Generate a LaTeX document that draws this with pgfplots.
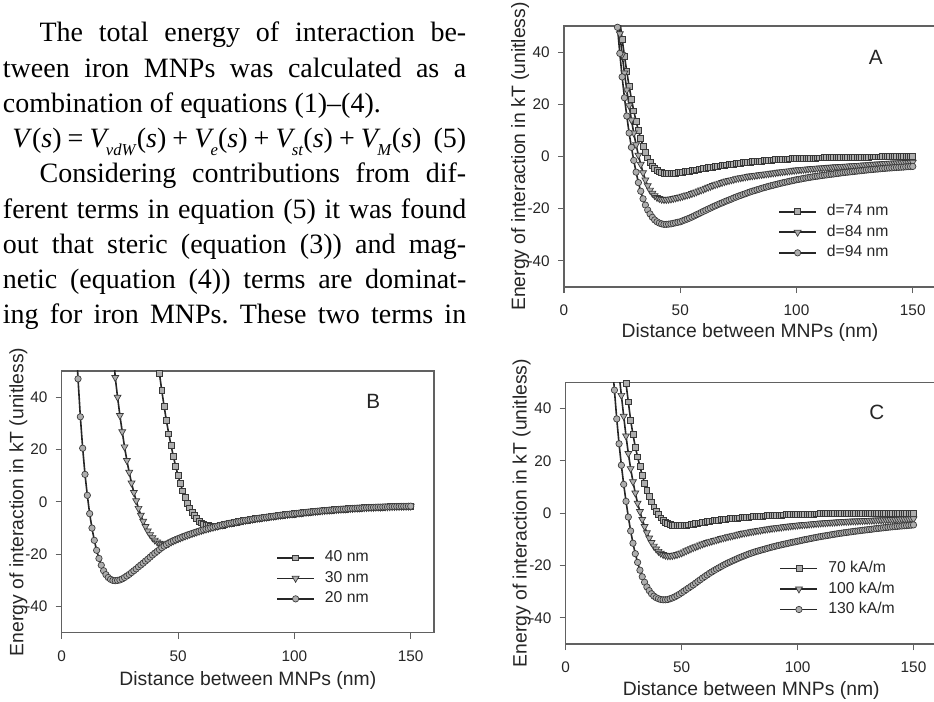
\documentclass[border=0pt]{standalone}
\usepackage{fontspec}
\setmainfont{Liberation Serif}
\newfontfamily\chartfont{Liberation Sans}
\usepackage{pgfplots}
\usepackage{pgfplotstable}
\pgfplotsset{compat=1.18}
\frenchspacing
\newcommand{\sub}[1]{\kern-0.12em\raisebox{-0.28em}{\fontsize{12.5}{13}\selectfont\textit{#1}}}
\definecolor{mkfill}{gray}{0.68}
\definecolor{mkdraw}{gray}{0.22}
\definecolor{ln}{gray}{0.15}
\definecolor{ax}{gray}{0.38}
\definecolor{txt}{gray}{0.15}
\pgfplotsset{
  mychart/.style={
    scale only axis,
    xmin=0, xmax=160, ymin=-50, ymax=50,
    xtick={0,50,100,150}, ytick={-40,-20,0,20,40},
    tick pos=left, tick align=outside,
    major tick length=4.5pt,
    axis line style={ax, line width=0.8pt},
    every tick/.style={ax, line width=0.8pt},
    /pgf/number format/assume math mode=true,
    ticklabel style={font=\chartfont\fontsize{11.5}{13}\selectfont, text=txt},
    xticklabel style={anchor=center, yshift=-12.75pt, inner sep=0pt},
    yticklabel style={anchor=east, xshift=-6pt, inner sep=0pt},
    label style={font=\chartfont\fontsize{14.5}{16}\selectfont, text=txt},
    xlabel={Distance between MNPs (nm)},
    ylabel={Energy of interaction in kT (unitless)},
    legend cell align=left,
    legend image code/.code={\draw[mark repeat=2,mark phase=2] plot coordinates {(0pt,0pt) (13.9pt,0pt) (27.8pt,0pt)};},
  },
  sq/.style={ln, line width=1.2pt, mark=square*, mark size=2.2pt, mark options={fill=mkfill, draw=mkdraw, line width=0.5pt}},
  tri/.style={ln, line width=1.2pt, mark=triangle*, mark size=3pt, mark options={rotate=180, fill=mkfill, draw=mkdraw, line width=0.5pt}},
  cir/.style={ln, line width=1.2pt, mark=*, mark size=2.4pt, mark options={fill=mkfill, draw=mkdraw, line width=0.5pt}},
  leg/.style={legend style={at={(axis description cs:#1)}, anchor=west, draw=none, fill=none, inner sep=0pt, row sep=4.4pt, column sep=7.5pt, font=\chartfont\fontsize{11.8}{13}\selectfont, text=txt, nodes={inner sep=0pt, text height=8.6pt, text depth=2.4pt}}},
}
\pgfplotstableread[row sep=\\]{
x y\\ 6 64\\ 7 47\\ 8 32.5\\ 9 20.5\\ 10 10.5\\ 11 2.5\\ 12 -4.5\\ 13 -10\\ 14 -14.7\\ 15 -18.5\\ 16 -21.6\\ 17 -24.2\\ 18 -26.3\\ 19 -27.8\\ 20 -28.9\\ 21 -29.6\\ 22 -30\\ 23 -30.1\\ 24 -30\\ 25 -29.8\\ 26 -29.4\\ 27 -28.9\\ 28 -28.3\\ 29 -27.7\\ 30 -27\\ 31 -26.3\\ 32 -25.6\\ 33 -24.8\\ 34 -24.1\\ 35 -23.4\\ 36 -22.6\\ 37 -21.9\\ 38 -21.1\\ 39 -20.3\\ 40 -19.6\\ 41 -18.9\\ 42 -18.2\\ 43 -17.5\\ 44 -16.9\\ 45 -16.3\\ 46 -15.8\\ 47 -15.3\\ 48 -14.9\\ 49 -14.5\\ 50 -14.1\\ 51 -13.75\\ 52 -13.4\\ 53 -13.05\\ 54 -12.7\\ 55 -12.4\\ 56 -12.1\\ 57 -11.8\\ 58 -11.5\\ 59 -11.2\\ 60 -10.9\\ 61 -10.65\\ 62 -10.4\\ 63 -10.15\\ 64 -9.9\\ 65 -9.7\\ 66 -9.45\\ 67 -9.25\\ 68 -9\\ 69 -8.8\\ 70 -8.6\\ 71 -8.4\\ 72 -8.2\\ 73 -8.05\\ 74 -7.85\\ 75 -7.7\\ 76 -7.5\\ 77 -7.35\\ 78 -7.2\\ 79 -7.05\\ 80 -6.9\\ 81 -6.75\\ 82 -6.6\\ 83 -6.45\\ 84 -6.35\\ 85 -6.2\\ 86 -6.1\\ 87 -5.95\\ 88 -5.85\\ 89 -5.7\\ 90 -5.6\\ 91 -5.5\\ 92 -5.35\\ 93 -5.25\\ 94 -5.1\\ 95 -5\\ 96 -4.9\\ 97 -4.8\\ 98 -4.7\\ 99 -4.6\\ 100 -4.5\\ 101 -4.4\\ 102 -4.3\\ 103 -4.2\\ 104 -4.1\\ 105 -4\\ 106 -3.9\\ 107 -3.8\\ 108 -3.75\\ 109 -3.65\\ 110 -3.55\\ 111 -3.45\\ 112 -3.4\\ 113 -3.3\\ 114 -3.25\\ 115 -3.15\\ 116 -3.1\\ 117 -3\\ 118 -2.95\\ 119 -2.85\\ 120 -2.8\\ 121 -2.75\\ 122 -2.7\\ 123 -2.6\\ 124 -2.55\\ 125 -2.5\\ 126 -2.45\\ 127 -2.4\\ 128 -2.35\\ 129 -2.3\\ 130 -2.25\\ 131 -2.2\\ 132 -2.15\\ 133 -2.15\\ 134 -2.1\\ 135 -2.05\\ 136 -2\\ 137 -2\\ 138 -1.95\\ 139 -1.9\\ 140 -1.9\\ 141 -1.85\\ 142 -1.8\\ 143 -1.8\\ 144 -1.75\\ 145 -1.75\\ 146 -1.7\\ 147 -1.7\\ 148 -1.7\\ 149 -1.65\\ 150 -1.65\\
}\Bcommon
\begin{document}
\begin{tikzpicture}
\path[use as bounding box, fill=white] (0,0) rectangle (700.5pt,525.75pt);
% ---- body text ----
\begin{scope}[every node/.style={anchor=base west, inner sep=0pt, font=\fontsize{21}{25}\selectfont}]
\node at (29.5pt,494.25pt) {\makebox[320pt][s]{The total energy of interaction be-}};
\node at (2pt,467.85pt) {\makebox[347.5pt][s]{tween iron MNPs was calculated as a}};
\node at (2pt,441.45pt) {combination of equations (1)--(4).};
\node at (9pt,415.05pt) {\makebox[340.5pt][s]{\textit{V}(\textit{s}) = \textit{V}\sub{vdW}(\textit{s}) + \textit{V}\sub{e}(\textit{s}) + \textit{V}\sub{st}(\textit{s}) + \textit{V}\sub{M}(\textit{s}) \ (5)}};
\node at (29.5pt,388.65pt) {\makebox[320pt][s]{Considering contributions from dif-}};
\node at (2pt,362.25pt) {\makebox[347.5pt][s]{ferent terms in equation (5) it was found}};
\node at (2pt,335.85pt) {\makebox[347.5pt][s]{out that steric (equation (3)) and mag-}};
\node at (2pt,309.45pt) {\makebox[347.5pt][s]{netic (equation (4)) terms are dominat-}};
\node at (2pt,283.05pt) {\makebox[347.5pt][s]{ing for iron MNPs. These two terms in}};
\end{scope}
% ---- chart A ----
\begin{axis}[mychart, at={(423pt,310.5pt)}, anchor=south west, width=279pt, height=195.75pt,
  xlabel style={at={(axis description cs:0.5,-0.176)}, anchor=center},
  ylabel style={at={(axis description cs:-0.118,0.5)}, anchor=center},
  leg={0.5753,0.2096}]
\addplot[sq] coordinates {(23,59)(24,52)(25,45)(26,38.5)(27,32.5)(28,27)(29,22)(30,17.5)(31,13.5)(32,10)(33,6.8)(34,4)(35,1.6)(36,-0.5)(37,-2.2)(38,-3.6)(39,-4.6)(40,-5.4)(41,-5.9)(42,-6.2)(43,-6.4)(44,-6.5)(45,-6.5)(46,-6.5)(47,-6.4)(48,-6.3)(49,-6.2)(50,-6.1)(51,-6)(52,-5.85)(53,-5.7)(54,-5.55)(55,-5.4)(56,-5.25)(57,-5.1)(58,-4.9)(59,-4.75)(60,-4.6)(61,-4.45)(62,-4.3)(63,-4.15)(64,-4)(65,-3.9)(66,-3.75)(67,-3.6)(68,-3.45)(69,-3.3)(70,-3.2)(71,-3.1)(72,-2.95)(73,-2.85)(74,-2.7)(75,-2.6)(76,-2.5)(77,-2.4)(78,-2.3)(79,-2.2)(80,-2.1)(81,-2)(82,-1.95)(83,-1.85)(84,-1.75)(85,-1.7)(86,-1.6)(87,-1.55)(88,-1.45)(89,-1.4)(90,-1.3)(91,-1.25)(92,-1.2)(93,-1.1)(94,-1.05)(95,-1)(96,-0.95)(97,-0.9)(98,-0.85)(99,-0.8)(100,-0.8)(101,-0.75)(102,-0.7)(103,-0.7)(104,-0.65)(105,-0.6)(106,-0.6)(107,-0.55)(108,-0.55)(109,-0.5)(110,-0.5)(111,-0.5)(112,-0.45)(113,-0.45)(114,-0.4)(115,-0.4)(116,-0.4)(117,-0.35)(118,-0.35)(119,-0.3)(120,-0.3)(121,-0.3)(122,-0.3)(123,-0.25)(124,-0.25)(125,-0.25)(126,-0.25)(127,-0.2)(128,-0.2)(129,-0.2)(130,-0.2)(131,-0.2)(132,-0.15)(133,-0.15)(134,-0.15)(135,-0.15)(136,-0.15)(137,-0.1)(138,-0.1)(139,-0.1)(140,-0.1)(141,-0.1)(142,-0.1)(143,-0.05)(144,-0.05)(145,-0.05)(146,-0.05)(147,0)(148,0)(149,0)(150,0)};
\addlegendentry{d=74 nm}
\addplot[tri] coordinates {(23,56)(24,47)(25,39)(26,32)(27,25.5)(28,19.5)(29,14)(30,9)(31,4.5)(32,0.5)(33,-3)(34,-6.2)(35,-9)(36,-11.2)(37,-12.9)(38,-14.1)(39,-15)(40,-15.7)(41,-16.1)(42,-16.4)(43,-16.5)(44,-16.5)(45,-16.4)(46,-16.3)(47,-16.1)(48,-15.9)(49,-15.7)(50,-15.5)(51,-15.25)(52,-15)(53,-14.75)(54,-14.5)(55,-14.2)(56,-13.9)(57,-13.55)(58,-13.2)(59,-12.85)(60,-12.5)(61,-12.15)(62,-11.8)(63,-11.45)(64,-11.1)(65,-10.8)(66,-10.5)(67,-10.2)(68,-9.95)(69,-9.65)(70,-9.4)(71,-9.2)(72,-8.95)(73,-8.75)(74,-8.5)(75,-8.3)(76,-8.15)(77,-8)(78,-7.8)(79,-7.65)(80,-7.5)(81,-7.4)(82,-7.25)(83,-7.15)(84,-7)(85,-6.9)(86,-6.8)(87,-6.65)(88,-6.55)(89,-6.4)(90,-6.3)(91,-6.2)(92,-6.05)(93,-5.95)(94,-5.8)(95,-5.7)(96,-5.6)(97,-5.5)(98,-5.4)(99,-5.3)(100,-5.2)(101,-5.1)(102,-5.05)(103,-4.95)(104,-4.85)(105,-4.8)(106,-4.7)(107,-4.6)(108,-4.55)(109,-4.45)(110,-4.4)(111,-4.35)(112,-4.3)(113,-4.2)(114,-4.15)(115,-4.1)(116,-4.05)(117,-3.95)(118,-3.9)(119,-3.85)(120,-3.8)(121,-3.75)(122,-3.7)(123,-3.6)(124,-3.55)(125,-3.5)(126,-3.45)(127,-3.4)(128,-3.3)(129,-3.25)(130,-3.2)(131,-3.15)(132,-3.1)(133,-3)(134,-2.95)(135,-2.9)(136,-2.85)(137,-2.8)(138,-2.7)(139,-2.65)(140,-2.6)(141,-2.55)(142,-2.5)(143,-2.5)(144,-2.45)(145,-2.4)(146,-2.35)(147,-2.3)(148,-2.3)(149,-2.25)(150,-2.2)};
\addlegendentry{d=84 nm}
\addplot[cir] coordinates {(22,61)(23,49.5)(24,39.5)(25,30.5)(26,22.5)(27,15.5)(28,9)(29,3.5)(30,-1.5)(31,-6)(32,-10)(33,-13.3)(34,-16.2)(35,-18.6)(36,-20.5)(37,-22)(38,-23.3)(39,-24.3)(40,-25)(41,-25.5)(42,-25.8)(43,-26)(44,-26)(45,-25.9)(46,-25.8)(47,-25.6)(48,-25.4)(49,-25.2)(50,-25)(51,-24.65)(52,-24.3)(53,-23.95)(54,-23.6)(55,-23.2)(56,-22.75)(57,-22.3)(58,-21.9)(59,-21.45)(60,-21)(61,-20.6)(62,-20.15)(63,-19.75)(64,-19.3)(65,-18.9)(66,-18.5)(67,-18.1)(68,-17.75)(69,-17.35)(70,-17)(71,-16.65)(72,-16.3)(73,-15.9)(74,-15.55)(75,-15.2)(76,-14.9)(77,-14.55)(78,-14.25)(79,-13.9)(80,-13.6)(81,-13.3)(82,-13.05)(83,-12.75)(84,-12.5)(85,-12.2)(86,-11.95)(87,-11.7)(88,-11.45)(89,-11.2)(90,-11)(91,-10.75)(92,-10.55)(93,-10.3)(94,-10.1)(95,-9.9)(96,-9.7)(97,-9.5)(98,-9.3)(99,-9.1)(100,-8.9)(101,-8.75)(102,-8.6)(103,-8.4)(104,-8.25)(105,-8.1)(106,-7.95)(107,-7.8)(108,-7.65)(109,-7.55)(110,-7.4)(111,-7.3)(112,-7.15)(113,-7.05)(114,-6.9)(115,-6.8)(116,-6.7)(117,-6.55)(118,-6.45)(119,-6.3)(120,-6.2)(121,-6.1)(122,-6)(123,-5.9)(124,-5.8)(125,-5.7)(126,-5.6)(127,-5.5)(128,-5.4)(129,-5.3)(130,-5.2)(131,-5.1)(132,-5.05)(133,-4.95)(134,-4.85)(135,-4.8)(136,-4.7)(137,-4.6)(138,-4.55)(139,-4.45)(140,-4.4)(141,-4.35)(142,-4.25)(143,-4.2)(144,-4.15)(145,-4.1)(146,-4.05)(147,-3.95)(148,-3.9)(149,-3.85)(150,-3.8)};
\addlegendentry{d=94 nm}
\node[font=\chartfont\fontsize{15.5}{16}\selectfont, text=txt] at (rel axis cs:0.838,0.880) {A};
\end{axis}
% ---- chart B ----
\begin{axis}[mychart, at={(46.3pt,51.2pt)}, anchor=south west, width=279.2pt, height=196.3pt,
  xlabel style={at={(axis description cs:0.5,-0.181)}, anchor=center},
  ylabel style={at={(axis description cs:-0.1166,0.5)}, anchor=center},
  leg={0.5756,0.2079}]
\addplot[sq] coordinates {(41,56)(42,49)(43,42.5)(44,36.5)(45,31)(46,26)(47,21.5)(48,17.3)(49,13.5)(50,10)(51,7)(52,4.2)(53,1.8)(54,-0.4)(55,-2.3)(56,-3.9)(57,-5.3)(58,-6.4)(59,-7.3)(60,-8)(61,-8.5)(62,-8.85)(63,-9.05)(64,-9.15)(65,-9.2)(66,-9.2)(67,-9.15)(68,-9)};
\addlegendentry{40 nm}
\addplot[sq, forget plot, restrict x to domain=68:150] table[x=x,y=y] {\Bcommon};
\addplot[tri] coordinates {(22,60)(23,47.5)(24,40)(25,33)(26,26.8)(27,21)(28,15.8)(29,11.3)(30,7.2)(31,3.6)(32,0.4)(33,-2.5)(34,-5.1)(35,-7.4)(36,-9.4)(37,-11.1)(38,-12.5)(39,-13.7)(40,-14.6)(41,-15.3)(42,-15.8)(43,-16.1)(44,-16.2)(45,-16.1)(46,-15.8)};
\addlegendentry{30 nm}
\addplot[tri, forget plot, restrict x to domain=46:150] table[x=x,y=y] {\Bcommon};
\addplot[cir] table[x=x,y=y] {\Bcommon};
\addlegendentry{20 nm}
\node[font=\chartfont\fontsize{15.5}{16}\selectfont, text=txt] at (rel axis cs:0.837,0.883) {B};
\end{axis}
% ---- chart C ----
\begin{axis}[mychart, at={(424.3pt,42.75pt)}, anchor=south west, width=278.2pt, height=196.3pt,
  xlabel style={at={(axis description cs:0.5,-0.176)}, anchor=center},
  ylabel style={at={(axis description cs:-0.1186,0.5)}, anchor=center},
  leg={0.5759,0.2102}]
\addplot[sq] coordinates {(25,56)(26,49.5)(27,42.5)(28,35.5)(29,30)(30,25.3)(31,21.5)(32,17.8)(33,14.5)(34,11.5)(35,8.8)(36,6.4)(37,4.3)(38,2.4)(39,0.8)(40,-0.6)(41,-1.8)(42,-2.8)(43,-3.5)(44,-4)(45,-4.4)(46,-4.6)(47,-4.7)(48,-4.75)(49,-4.75)(50,-4.7)(51,-4.65)(52,-4.55)(53,-4.45)(54,-4.3)(55,-4.15)(56,-4)(57,-3.85)(58,-3.7)(59,-3.5)(60,-3.35)(61,-3.2)(62,-3.1)(63,-2.95)(64,-2.85)(65,-2.7)(66,-2.6)(67,-2.5)(68,-2.4)(69,-2.3)(70,-2.2)(71,-2.1)(72,-2)(73,-1.95)(74,-1.85)(75,-1.8)(76,-1.7)(77,-1.65)(78,-1.55)(79,-1.5)(80,-1.4)(81,-1.35)(82,-1.3)(83,-1.2)(84,-1.15)(85,-1.1)(86,-1.05)(87,-1)(88,-0.95)(89,-0.9)(90,-0.8)(91,-0.8)(92,-0.75)(93,-0.7)(94,-0.65)(95,-0.6)(96,-0.6)(97,-0.55)(98,-0.5)(99,-0.5)(100,-0.45)(101,-0.45)(102,-0.4)(103,-0.4)(104,-0.35)(105,-0.3)(106,-0.3)(107,-0.3)(108,-0.25)(109,-0.25)(110,-0.2)(111,-0.2)(112,-0.2)(113,-0.2)(114,-0.15)(115,-0.15)(116,-0.15)(117,-0.1)(118,-0.1)(119,-0.1)(120,-0.1)(121,-0.1)(122,-0.1)(123,-0.05)(124,-0.05)(125,-0.05)(126,-0.05)(127,-0.05)(128,-0.05)(129,-0.05)(130,-0.05)(131,0)(132,0)(133,0)(134,0)(135,0)(136,0)(137,0)(138,0)(139,0)(140,0)(141,0)(142,0)(143,0)(144,0)(145,0)(146,0)(147,0)(148,0)(149,0)(150,0)};
\addlegendentry{70 kA/m}
\addplot[tri] coordinates {(23,53)(24,45)(25,37)(26,29.5)(27,22.8)(28,17)(29,12)(30,7.7)(31,3.8)(32,0.6)(33,-2.4)(34,-5.1)(35,-7.5)(36,-9.5)(37,-11.2)(38,-12.6)(39,-13.7)(40,-14.6)(41,-15.3)(42,-15.8)(43,-16.1)(44,-16.3)(45,-16.3)(46,-16.2)(47,-16)(48,-15.8)(49,-15.5)(50,-15.2)(51,-14.8)(52,-14.4)(53,-14)(54,-13.6)(55,-13.2)(56,-12.85)(57,-12.5)(58,-12.15)(59,-11.8)(60,-11.5)(61,-11.2)(62,-10.95)(63,-10.7)(64,-10.45)(65,-10.2)(66,-9.95)(67,-9.7)(68,-9.45)(69,-9.25)(70,-9)(71,-8.8)(72,-8.6)(73,-8.4)(74,-8.2)(75,-8)(76,-7.8)(77,-7.6)(78,-7.45)(79,-7.25)(80,-7.1)(81,-6.95)(82,-6.8)(83,-6.65)(84,-6.5)(85,-6.3)(86,-6.2)(87,-6.05)(88,-5.95)(89,-5.8)(90,-5.7)(91,-5.55)(92,-5.45)(93,-5.35)(94,-5.2)(95,-5.1)(96,-5)(97,-4.9)(98,-4.8)(99,-4.7)(100,-4.6)(101,-4.5)(102,-4.45)(103,-4.35)(104,-4.3)(105,-4.2)(106,-4.1)(107,-4.05)(108,-3.95)(109,-3.9)(110,-3.8)(111,-3.75)(112,-3.7)(113,-3.6)(114,-3.55)(115,-3.5)(116,-3.45)(117,-3.4)(118,-3.3)(119,-3.25)(120,-3.2)(121,-3.15)(122,-3.1)(123,-3.05)(124,-3)(125,-3)(126,-2.95)(127,-2.9)(128,-2.85)(129,-2.8)(130,-2.8)(131,-2.75)(132,-2.7)(133,-2.7)(134,-2.65)(135,-2.6)(136,-2.6)(137,-2.55)(138,-2.5)(139,-2.5)(140,-2.45)(141,-2.4)(142,-2.4)(143,-2.35)(144,-2.35)(145,-2.3)(146,-2.3)(147,-2.25)(148,-2.25)(149,-2.2)(150,-2.2)};
\addlegendentry{100 kA/m}
\addplot[cir] coordinates {(20,58)(21,47)(22,36)(23,26.5)(24,18.3)(25,11)(26,4.5)(27,-1.5)(28,-6.8)(29,-11.5)(30,-15.5)(31,-18.8)(32,-21.8)(33,-24.3)(34,-26.4)(35,-28.2)(36,-29.6)(37,-30.8)(38,-31.7)(39,-32.3)(40,-32.7)(41,-33)(42,-33.1)(43,-33.1)(44,-33)(45,-32.7)(46,-32.4)(47,-32)(48,-31.5)(49,-31)(50,-30.4)(51,-29.8)(52,-29.2)(53,-28.6)(54,-28)(55,-27.4)(56,-26.75)(57,-26.1)(58,-25.45)(59,-24.8)(60,-24.2)(61,-23.6)(62,-23)(63,-22.45)(64,-21.9)(65,-21.4)(66,-20.9)(67,-20.4)(68,-19.9)(69,-19.45)(70,-19)(71,-18.6)(72,-18.2)(73,-17.8)(74,-17.4)(75,-17)(76,-16.65)(77,-16.3)(78,-15.95)(79,-15.6)(80,-15.3)(81,-15)(82,-14.7)(83,-14.45)(84,-14.2)(85,-13.95)(86,-13.7)(87,-13.45)(88,-13.2)(89,-12.95)(90,-12.75)(91,-12.5)(92,-12.3)(93,-12.1)(94,-11.9)(95,-11.7)(96,-11.5)(97,-11.3)(98,-11.1)(99,-10.95)(100,-10.75)(101,-10.55)(102,-10.35)(103,-10.15)(104,-10)(105,-9.8)(106,-9.65)(107,-9.45)(108,-9.3)(109,-9.1)(110,-8.95)(111,-8.8)(112,-8.65)(113,-8.5)(114,-8.35)(115,-8.2)(116,-8.05)(117,-7.9)(118,-7.75)(119,-7.65)(120,-7.5)(121,-7.4)(122,-7.25)(123,-7.15)(124,-7)(125,-6.9)(126,-6.8)(127,-6.7)(128,-6.55)(129,-6.45)(130,-6.35)(131,-6.25)(132,-6.15)(133,-6)(134,-5.9)(135,-5.8)(136,-5.7)(137,-5.6)(138,-5.5)(139,-5.4)(140,-5.3)(141,-5.2)(142,-5.15)(143,-5.05)(144,-4.95)(145,-4.9)(146,-4.8)(147,-4.75)(148,-4.65)(149,-4.6)(150,-4.5)};
\addlegendentry{130 kA/m}
\node[font=\chartfont\fontsize{15.5}{16}\selectfont, text=txt] at (rel axis cs:0.8385,0.885) {C};
\end{axis}
\end{tikzpicture}
\end{document}
